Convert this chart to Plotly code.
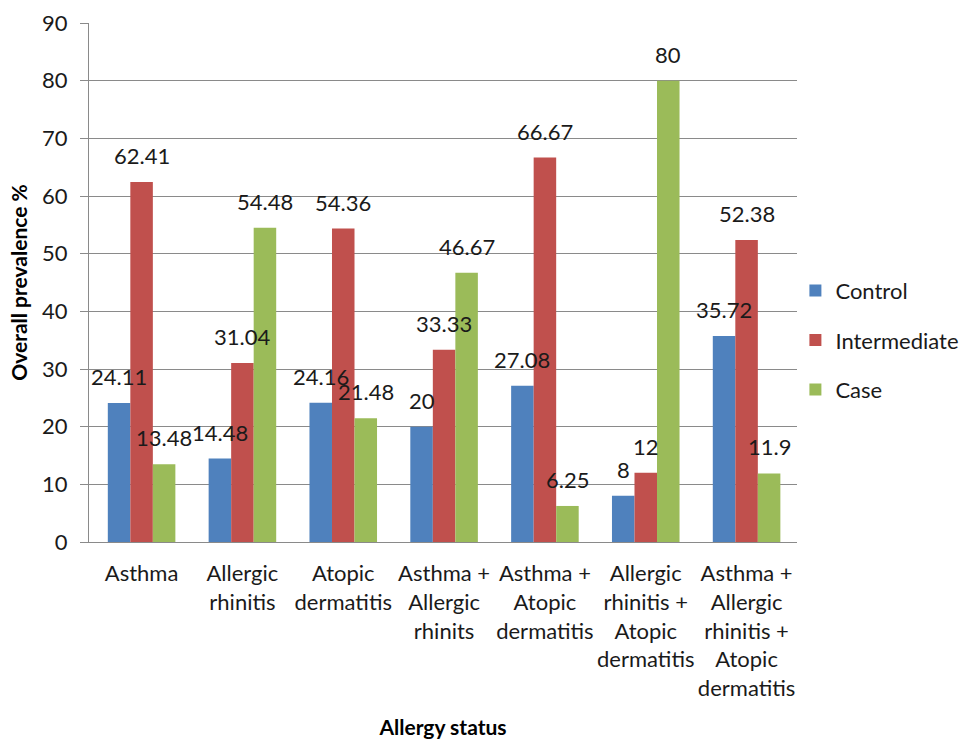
import plotly.graph_objects as go

categories = [
    "Asthma",
    "Allergic<br>rhinitis",
    "Atopic<br>dermatitis",
    "Asthma +<br>Allergic<br>rhinits",
    "Asthma +<br>Atopic<br>dermatitis",
    "Allergic<br>rhinitis +<br>Atopic<br>dermatitis",
    "Asthma +<br>Allergic<br>rhinitis +<br>Atopic<br>dermatitis",
]
control = [24.11, 14.48, 24.16, 20, 27.08, 8, 35.72]
intermediate = [62.41, 31.04, 54.36, 33.33, 66.67, 12, 52.38]
case = [13.48, 54.48, 21.48, 46.67, 6.25, 80, 11.9]
y_ticks = [0, 10, 20, 30, 40, 50, 60, 70, 80, 90]

series = [
    ("Control", control, "#4F81BD"),
    ("Intermediate", intermediate, "#C0504D"),
    ("Case", case, "#9BBB59"),
]

FONT = "Lato, 'Open Sans', sans-serif"
TEXT = "#1a1a1a"
GRID = "#8a8a8a"

W, H = 970, 740
M_L, M_R, M_T, M_B = 89, 173, 23, 198
BARGAP = 0.33

fig = go.Figure()
for i, (name, vals, color) in enumerate(series):
    fig.add_trace(go.Bar(
        name=name,
        legendgroup=name,
        x=categories,
        y=vals,
        marker=dict(color=color, line=dict(width=0)),
    ))

# value labels drawn on top of all bars, centred over their own bar
plot_w = W - M_L - M_R
bar_px = plot_w / len(categories) * (1 - BARGAP) / len(series)
for i, (name, vals, color) in enumerate(series):
    for cat, v in zip(categories, vals):
        fig.add_annotation(
            x=cat, y=v, xref="x", yref="y",
            text=f"{v:g}",
            showarrow=False,
            xanchor="center", yanchor="bottom",
            xshift=(i - (len(series) - 1) / 2) * bar_px,
            yshift=11,
            font=dict(family=FONT, size=22, color=TEXT),
        )

fig.update_layout(
    width=W,
    height=H,
    barmode="group",
    bargap=BARGAP,
    bargroupgap=0,
    plot_bgcolor="white",
    paper_bgcolor="white",
    margin=dict(l=M_L, r=M_R, t=M_T, b=M_B, autoexpand=False),
    font=dict(family=FONT, size=22, color=TEXT),
    showlegend=True,
    legend=dict(
        xref="container", x=0.820, xanchor="left",
        y=0.389, yanchor="middle",
        font=dict(family=FONT, size=22, color=TEXT),
        itemwidth=30,
        tracegroupgap=18,
        bgcolor="rgba(0,0,0,0)",
    ),
)

fig.update_yaxes(
    range=[0, 90],
    tickvals=y_ticks,
    automargin=False,
    showgrid=True,
    gridcolor=GRID,
    gridwidth=1,
    showline=True,
    linecolor=GRID,
    linewidth=1,
    ticks="outside",
    ticklen=8,
    tickcolor=GRID,
    ticklabelstandoff=8,
    zeroline=False,
    tickfont=dict(family=FONT, size=22, color=TEXT),
    title=dict(text="<b>Overall prevalence %</b>",
               font=dict(family=FONT, size=21, color="#000000"),
               standoff=8),
)

fig.update_xaxes(
    automargin=False,
    showline=True,
    linecolor=GRID,
    linewidth=1,
    showgrid=False,
    ticks="",
    tickangle=0,
    ticklabelstandoff=12,
    tickfont=dict(family=FONT, size=22, color=TEXT),
    title=dict(text="<b>Allergy status</b>",
               font=dict(family=FONT, size=21, color="#000000"),
               standoff=20),
)

fig.write_html("out.html")
